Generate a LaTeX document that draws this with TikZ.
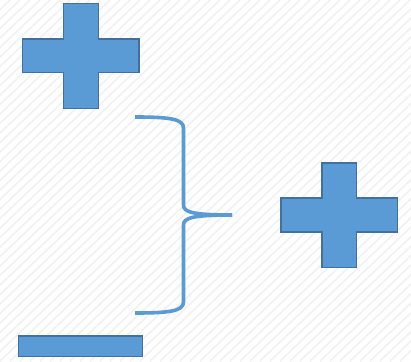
\documentclass[tikz,border=0pt]{standalone}
\usepackage{tikz}
\usetikzlibrary{positioning}
\definecolor{sblue}{HTML}{5B9BD5}
\definecolor{sedge}{HTML}{41719C}
\definecolor{sstripe}{HTML}{F1F1F1}
\tikzset{signbox/.style = {fill=sblue, draw=sedge, line width=1.8pt, line join=miter}}
\tikzset{bracket/.style = {draw=sblue, line width=3.6pt, line cap=butt}}

\begin{document}
\begin{tikzpicture}[x=1pt, y=-1pt]
      \useasboundingbox (0, 0) rectangle (411, 361);
      \fill [white] (0, 0) rectangle (411, 361);
      \begin{scope}
        \clip (0, 0) rectangle (411, 361);
        \foreach \s in {0, 10, ..., 780} {
          \draw [sstripe, line width=1.5pt] (\s - 380, 361) -- (\s, 0);
        }
      \end{scope}

      % top plus
      \draw [signbox] (63.5, 3.5) -- (98.5, 3.5) -- (98.5, 39) -- (139, 39) -- (139, 72.5)
        -- (98.5, 72.5) -- (98.5, 108.5) -- (63.5, 108.5) -- (63.5, 72.5) -- (22.5, 72.5)
        -- (22.5, 39) -- (63.5, 39) -- cycle;

      % right plus
      \draw [signbox] (322, 163) -- (356.5, 163) -- (356.5, 198) -- (397.5, 198) -- (397.5, 232)
        -- (356.5, 232) -- (356.5, 267.5) -- (322, 267.5) -- (322, 232) -- (281, 232)
        -- (281, 198) -- (322, 198) -- cycle;

      % minus
      \draw [signbox] (18.5, 336) rectangle (142.5, 356.5);

      % brace
      \draw [bracket] (135, 117) .. controls (170, 117) and (183.5, 119) .. (183.5, 128)
        -- (183.5, 205) .. controls (183.5, 212) and (192, 215) .. (232, 215);
      \draw [bracket] (135, 313) .. controls (170, 313) and (183.5, 311) .. (183.5, 302)
        -- (183.5, 225) .. controls (183.5, 218) and (192, 215) .. (232, 215);
\end{tikzpicture}
\end{document}
